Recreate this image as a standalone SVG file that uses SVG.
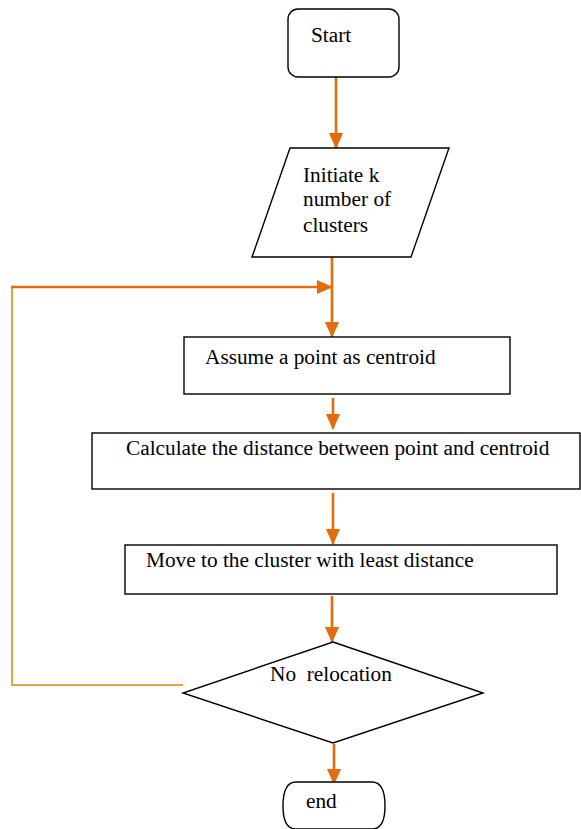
<svg xmlns="http://www.w3.org/2000/svg" width="581" height="829" viewBox="0 0 581 829">
<style>
.node{fill:#fff;stroke:#000;stroke-width:1.4}
.lbl{font-family:"Liberation Serif","Times New Roman",serif;font-size:21.3px;fill:#000}
.flow{stroke:#E46C0A;stroke-width:2.6;fill:none}
.back{stroke:#E9A04A;stroke-width:2;fill:none}
</style>
<defs>
<marker id="ah" markerUnits="userSpaceOnUse" markerWidth="16" markerHeight="18" refX="17" refY="8" orient="auto" viewBox="0 0 18 16">
<path d="M0 0 L18 8 L0 16 Z" fill="#E46C0A"/>
</marker>
</defs>
<g id="connectors">
<line class="flow" x1="336" y1="77" x2="336" y2="148" marker-end="url(#ah)"/>
<line class="flow" x1="332" y1="257" x2="332" y2="337" marker-end="url(#ah)"/>
<polyline class="back" points="183,685 12,685 12,287"/>
<line class="flow" x1="11" y1="287" x2="332" y2="287" marker-end="url(#ah)"/>
<line class="flow" x1="333" y1="398" x2="333" y2="429" marker-end="url(#ah)"/>
<line class="flow" x1="333" y1="493" x2="333" y2="544" marker-end="url(#ah)"/>
<line class="flow" x1="332" y1="596" x2="332" y2="642" marker-end="url(#ah)"/>
<line class="flow" x1="334" y1="744" x2="334" y2="784" marker-end="url(#ah)"/>
</g>
<g id="start">
<rect class="node" x="288" y="9" width="111" height="68" rx="10"/>
<text class="lbl" x="311" y="42">Start</text>
</g>
<g id="init">
<polygon class="node" points="290,148 449,148 411,257 252,257"/>
<text class="lbl" x="303" y="182">Initiate k</text>
<text class="lbl" x="303" y="206">number of</text>
<text class="lbl" x="303" y="232">clusters</text>
</g>
<g id="assume">
<rect class="node" x="184" y="337" width="326" height="57"/>
<text class="lbl" x="205" y="364">Assume a point as centroid</text>
</g>
<g id="calc">
<rect class="node" x="92" y="433" width="488" height="56"/>
<text class="lbl" x="126" y="455">Calculate the distance between point and centroid</text>
</g>
<g id="move">
<rect class="node" x="125" y="545" width="432" height="49"/>
<text class="lbl" x="146" y="567">Move to the cluster with least distance</text>
</g>
<g id="decision">
<polygon class="node" points="333,642 483,693 333,743 183,693"/>
<text class="lbl" x="270" y="681" xml:space="preserve">No  relocation</text>
</g>
<g id="end">
<path class="node" d="M296 782 L372 782 Q385 782 385 806 Q385 829 372 829 L296 829 Q283 829 283 806 Q283 782 296 782 Z"/>
<text class="lbl" x="306" y="808">end</text>
</g>
</svg>
